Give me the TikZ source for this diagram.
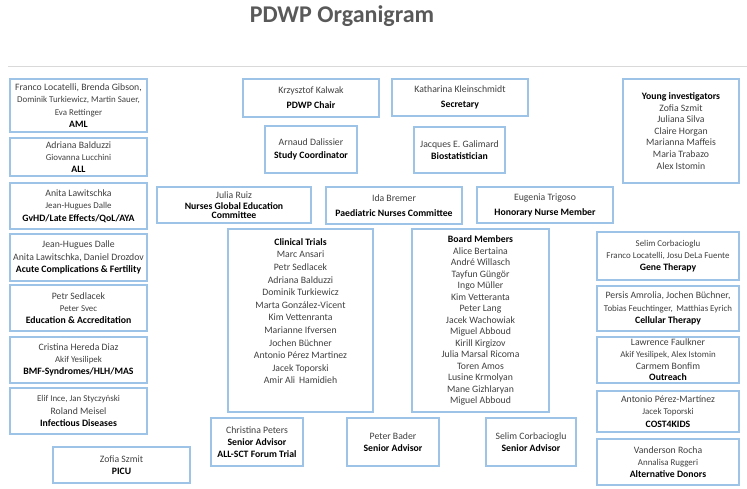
\documentclass[tikz,border=0pt]{standalone}
\usepackage{fontspec}
\setmainfont{Carlito}
\definecolor{boxblue}{RGB}{157,195,230}
\definecolor{nametext}{RGB}{64,64,64}
\definecolor{titlegray}{RGB}{89,89,89}
\definecolor{rulegray}{RGB}{217,217,217}
\newcommand{\smname}[1]{{\fontsize{8.9}{12}\selectfont #1}}
\newcommand{\ttl}[1]{{\color{black}\bfseries #1}}
\newcommand{\orgbox}[7][]{%
  \node[obox, minimum width={(#5)-(#3)}, minimum height={(#6)-(#4)}, #1]
    (#2) at ({((#3)+(#5))/2},{((#4)+(#6))/2}) {#7};}
\begin{document}
\begin{tikzpicture}[x=1pt,y=-1pt,
  obox/.style={draw=boxblue, line width=1.2pt, fill=white, align=center,
    inner sep=1pt, text=nametext, font=\fontsize{9.75}{12.3}\selectfont},
  wide/.style={font=\fontsize{9.75}{15}\selectfont},
  tight/.style={font=\fontsize{9.75}{11.6}\selectfont}]
\useasboundingbox[fill=white] (0,0) rectangle (747,488);
\node[font=\fontsize{24}{28}\selectfont\bfseries, text=titlegray] (title) at (342,16) {PDWP Organigram};
\coordinate (ruleL) at (8,66);
\coordinate (ruleR) at (747,66);
\draw[rulegray, line width=0.8pt] (ruleL) -- (ruleR);
% left column
\orgbox{aml}{10}{79}{147}{132}{Franco Locatelli, Brenda Gibson,\\\smname{Dominik Turkiewicz, Martin Sauer,}\\\smname{Eva Rettinger}\\\ttl{AML}}
\orgbox{all}{10}{138}{147}{176}{Adriana Balduzzi\\\smname{Giovanna Lucchini}\\\ttl{ALL}}
\orgbox{gvhd}{10}{183}{147}{229}{Anita Lawitschka\\\smname{Jean-Hugues Dalle}\\\ttl{GvHD/Late Effects/QoL/AYA}}
\orgbox{acute}{10}{234}{147}{281}{Jean-Hugues Dalle\\Anita Lawitschka, Daniel Drozdov\\\ttl{Acute Complications \& Fertility}}
\orgbox{edu}{10}{285}{147}{331}{Petr Sedlacek\\\smname{Peter Svec}\\\ttl{Education \& Accreditation}}
\orgbox{bmf}{10}{337}{147}{383}{Cristina Hereda Diaz\\\smname{Akif Yesilipek}\\\ttl{BMF-Syndromes/HLH/MAS}}
\orgbox{infect}{10}{388}{147}{434}{\smname{Elif Ince, Jan Styczyński}\\Roland Meisel\\\ttl{Infectious Diseases}}
\orgbox{picu}{53}{447}{190}{483}{Zofia Szmit\\\ttl{PICU}}
% top centre
\orgbox[wide]{chair}{243}{79}{379}{117}{Krzysztof Kalwak\\\ttl{PDWP Chair}}
\orgbox[wide]{secretary}{392}{79}{528}{116}{Katharina Kleinschmidt\\\ttl{Secretary}}
\orgbox{study}{265}{126}{357}{173}{Arnaud Dalissier\\\ttl{Study Coordinator}}
\orgbox{biostat}{414}{127}{505}{173}{Jacques E. Galimard\\\ttl{Biostatistician}}
\orgbox[tight]{nursesge}{157}{187}{311}{223}{Julia Ruiz\\\ttl{Nurses Global Education}\\[-2.5pt]\ttl{Committee}}
\orgbox[wide]{paednurse}{326}{187}{462}{224}{Ida Bremer\\\ttl{Paediatric Nurses Committee}}
\orgbox[wide]{honorary}{477}{187}{613}{223}{Eugenia Trigoso\\\ttl{Honorary Nurse Member}}
% young investigators
\orgbox[tight]{young}{623}{79}{739}{183}{\ttl{Young investigators}\\Zofia Szmit\\Juliana Silva\\Claire Horgan\\Marianna Maffeis\\Maria Trabazo\\Alex Istomin}
% centre lists
\orgbox[font=\fontsize{9.75}{12.6}\selectfont]{clinical}{228}{229}{373}{412}{\ttl{Clinical Trials}\\Marc Ansari\\Petr Sedlacek\\Adriana Balduzzi\\Dominik Turkiewicz\\Marta González-Vicent\\Kim Vettenranta\\Marianne Ifversen\\Jochen Büchner\\Antonio Pérez Martinez\\Jacek Toporski\\Amir Ali\, Hamidieh\\[6pt]\mbox{}}
\orgbox[font=\fontsize{9.75}{11.5}\selectfont]{board}{412}{229}{549}{412}{\ttl{Board Members}\\Alice Bertaina\\André Willasch\\Tayfun Güngör\\Ingo Müller\\Kim Vetteranta\\Peter Lang\\Jacek Wachowiak\\Miguel Abboud\\Kirill Kirgizov\\Julia Marsal Ricoma\\Toren Amos\\Lusine Krmolyan\\Mane Gizhlaryan\\Miguel Abboud}
% right column
\orgbox{gene}{597}{232}{739}{280}{\smname{Selim Corbacioglu}\\\smname{Franco Locatelli, Josu DeLa Fuente}\\\ttl{Gene Therapy}}
\orgbox{cellular}{597}{286}{739}{331}{Persis Amrolia, Jochen Büchner,\\\smname{Tobias Feuchtinger,\, Matthias Eyrich}\\\ttl{Cellular Therapy}}
\orgbox[tight]{outreach}{597}{337}{739}{383}{Lawrence Faulkner\\\smname{Akif Yesilipek, Alex Istomin}\\Carmem Bonfim\\\ttl{Outreach}}
\orgbox{cost}{597}{391}{739}{432}{Antonio Pérez-Martínez\\\smname{Jacek Toporski}\\\ttl{COST4KIDS}}
\orgbox{altdonors}{597}{439}{739}{485}{Vanderson Rocha\\\smname{Annalisa Ruggeri}\\\ttl{Alternative Donors}}
% senior advisors
\orgbox{peters}{211}{418}{303}{466}{Christina Peters\\\ttl{Senior Advisor}\\\ttl{ALL-SCT Forum Trial}}
\orgbox{bader}{347}{418}{439}{466}{Peter Bader\\\ttl{Senior Advisor}}
\orgbox{corba}{486}{418}{576}{466}{Selim Corbacioglu\\\ttl{Senior Advisor}}
\end{tikzpicture}
\end{document}
